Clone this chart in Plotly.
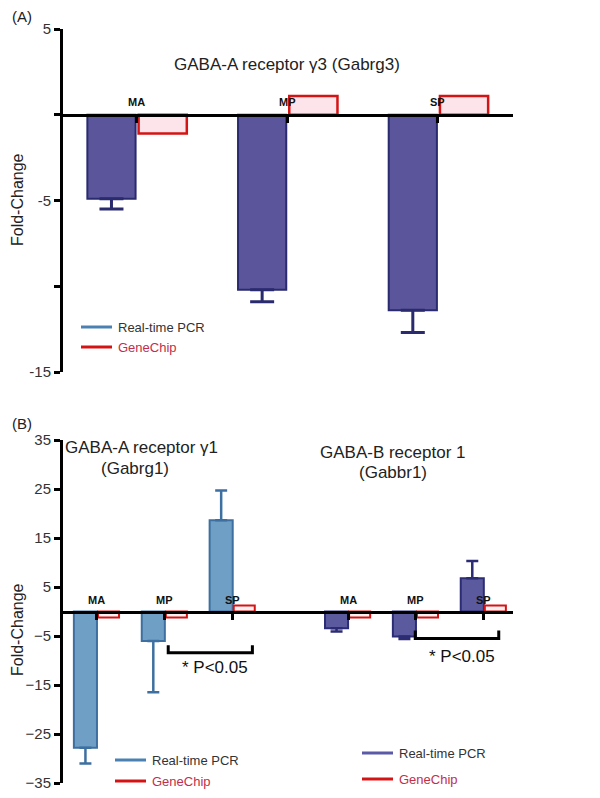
import plotly.graph_objects as go

# ---------------- data ----------------
regions = ["MA", "MP", "SP"]
a_pcr = [-4.9, -10.2, -11.4]
a_pcr_err = [0.6, 0.7, 1.3]
a_chip = [-1.1, 1.1, 1.1]

b1_pcr = [-27.8, -6.0, 18.6]
b1_pcr_err = [3.2, 10.5, 6.1]
b1_chip = [-1.2, -1.2, 1.2]

b2_pcr = [-3.4, -5.1, 6.8]
b2_pcr_err = [0.7, 0.5, 3.5]
b2_chip = [-1.2, -1.2, 1.2]

a_ticks = [5, 0, -5, -10, -15]
a_ticktext = ["5", "", "-5", "", "-15"]
b_ticks = [35, 25, 15, 5, -5, -15, -25, -35]

W, H = 600, 798
FONT = "Liberation Sans, Arial, sans-serif"


def px(x):
    return x / W


def py(y):
    return 1 - y / H


def err_arrays(vals, errs):
    up = [e if v > 0 else 0 for v, e in zip(vals, errs)]
    dn = [e if v < 0 else 0 for v, e in zip(vals, errs)]
    return up, dn


fig = go.Figure()

# ---------- panel A ----------
xa = list(range(len(regions)))
up, dn = err_arrays(a_pcr, a_pcr_err)
fig.add_trace(go.Bar(
    x=[i - 0.165 for i in xa], y=a_pcr, width=0.32,
    marker=dict(color="#5b569c", line=dict(color="#2a2a6e", width=2)),
    error_y=dict(type="data", symmetric=False, array=up, arrayminus=dn,
                 color="#2a2a6e", thickness=3, width=12),
    xaxis="x", yaxis="y", showlegend=False))
fig.add_trace(go.Bar(
    x=[i + 0.175 for i in xa], y=a_chip, width=0.32,
    marker=dict(color="#fde4ea", line=dict(color="#d41414", width=2.5)),
    xaxis="x", yaxis="y", showlegend=False))

# ---------- panel B ----------
xb1 = list(range(len(regions)))
xb2 = [i + 3.7 for i in range(len(regions))]
up, dn = err_arrays(b1_pcr, b1_pcr_err)
fig.add_trace(go.Bar(
    x=[i - 0.17 for i in xb1], y=b1_pcr, width=0.34,
    marker=dict(color="#709fc6", line=dict(color="#3d70a0", width=2)),
    error_y=dict(type="data", symmetric=False, array=up, arrayminus=dn,
                 color="#3d70a0", thickness=2.5, width=6),
    xaxis="x2", yaxis="y2", showlegend=False))
fig.add_trace(go.Bar(
    x=[i + 0.17 for i in xb1], y=b1_chip, width=0.31,
    marker=dict(color="#fdf0f2", line=dict(color="#d41414", width=2)),
    xaxis="x2", yaxis="y2", showlegend=False))
up, dn = err_arrays(b2_pcr, b2_pcr_err)
fig.add_trace(go.Bar(
    x=[i - 0.17 for i in xb2], y=b2_pcr, width=0.34,
    marker=dict(color="#5b5a9e", line=dict(color="#2c2c74", width=2)),
    error_y=dict(type="data", symmetric=False, array=up, arrayminus=dn,
                 color="#2c2c74", thickness=2.5, width=6),
    xaxis="x2", yaxis="y2", showlegend=False))
fig.add_trace(go.Bar(
    x=[i + 0.17 for i in xb2], y=b2_chip, width=0.31,
    marker=dict(color="#fdf0f2", line=dict(color="#d41414", width=2)),
    xaxis="x2", yaxis="y2", showlegend=False))

# ---------- axes ----------
xdom = [px(61), px(513)]
ya_dom = [py(372), py(29)]
yb_dom = [py(783), py(440)]
ya_rng = [-15, 5]
yb_rng = [-35, 35]


def zero_pos(dom, rng):
    return dom[0] + (0 - rng[0]) / (rng[1] - rng[0]) * (dom[1] - dom[0])


axis_common = dict(showgrid=False, zeroline=False, showline=True,
                   linecolor="black", linewidth=3, automargin=False)

fig.update_layout(
    xaxis=dict(domain=xdom, range=[-0.5, 2.5], anchor="free",
               position=zero_pos(ya_dom, ya_rng),
               tickvals=xa, ticks="outside", ticklen=6, tickwidth=3,
               tickcolor="black", showticklabels=False, **axis_common),
    yaxis=dict(domain=ya_dom, range=ya_rng, anchor="free", position=xdom[0],
               tickvals=a_ticks, ticktext=a_ticktext, ticks="outside",
               ticklen=6, tickwidth=3, tickcolor="black",
               tickfont=dict(size=15, color="#333", family=FONT),
               **axis_common),
    xaxis2=dict(domain=xdom, range=[-0.53, 6.13], anchor="free",
                position=zero_pos(yb_dom, yb_rng),
                tickvals=xb1 + xb2, ticks="outside", ticklen=6, tickwidth=3,
                tickcolor="black", showticklabels=False, **axis_common),
    yaxis2=dict(domain=yb_dom, range=yb_rng, anchor="free", position=xdom[0],
                tickvals=b_ticks, ticks="outside", ticklen=6, tickwidth=3,
                tickcolor="black",
                tickfont=dict(size=15, color="#333", family=FONT),
                **axis_common),
    barmode="overlay",
    width=W, height=H, autosize=False,
    margin=dict(l=0, r=0, t=0, b=0, pad=0),
    paper_bgcolor="white", plot_bgcolor="white",
    font=dict(family=FONT, color="#222"),
)

ann = []


def txt(x, y, text, size, color="#222", xanchor="center", **kw):
    ann.append(dict(x=px(x), y=py(y), xref="paper", yref="paper", text=text,
                    xanchor=xanchor, yanchor="middle", showarrow=False,
                    font=dict(size=size, color=color), **kw))


# category labels
for i, r in zip(xa, regions):
    ann.append(dict(x=i, y=0, xref="x", yref="y", text=f"<b>{r}</b>",
                    xanchor="center", yanchor="middle",
                    showarrow=False, yshift=13, font=dict(size=11, color="#111")))
for i, r in zip(xb1 + xb2, regions + regions):
    ann.append(dict(x=i, y=0, xref="x2", yref="y2", text=f"<b>{r}</b>",
                    xanchor="center", yanchor="middle",
                    showarrow=False, yshift=12, font=dict(size=11, color="#111")))

# titles & panel labels
txt(10, 17, "(A)", 15, xanchor="left")
txt(10, 423, "(B)", 15, xanchor="left")
txt(287, 64, "GABA-A receptor γ3 (Gabrg3)", 17)
txt(141, 447, "GABA-A receptor γ1", 17)
txt(135, 468, "(Gabrg1)", 17)
txt(393, 452, "GABA-B receptor 1", 17)
txt(393, 472, "(Gabbr1)", 17)
txt(17, 200, "Fold-Change", 16, textangle=-90)
txt(17, 630, "Fold-Change", 16, textangle=-90)
txt(215, 667, "* P<0.05", 17, color="#111")
txt(462, 656, "* P<0.05", 17, color="#111")

shapes = []
# significance brackets (data coords)
for (x0, x1, yb, ye) in [(1.05, 2.29, -8.4, -6.9), (4.69, 5.92, -5.5, -3.9)]:
    shapes.append(dict(type="path", xref="x2", yref="y2",
                       path=f"M {x0} {ye} L {x0} {yb} L {x1} {yb} L {x1} {ye}",
                       line=dict(color="black", width=3)))

# legends
legends = [
    (81, 112, 327, 347, "#4a80b2"),
    (115, 146, 760, 781, "#4a80b2"),
    (362, 393, 753, 779, "#5a5aa8"),
]
for x0, x1, y1, y2, c in legends:
    shapes.append(dict(type="line", xref="paper", yref="paper",
                       x0=px(x0), x1=px(x1), y0=py(y1), y1=py(y1),
                       line=dict(color=c, width=3)))
    shapes.append(dict(type="line", xref="paper", yref="paper",
                       x0=px(x0), x1=px(x1), y0=py(y2), y1=py(y2),
                       line=dict(color="#d41414", width=3)))
    txt(x1 + 4, y1, "Real-time PCR", 13, color="#333", xanchor="left")
    txt(x1 + 4, y2, "GeneChip", 13, color="#c0304a", xanchor="left")

fig.update_layout(annotations=ann, shapes=shapes)
fig.write_html("out.html",
               config={"displayModeBar": False},
               post_script="document.body.style.margin='0';"
                           "document.body.style.overflow='hidden';")
